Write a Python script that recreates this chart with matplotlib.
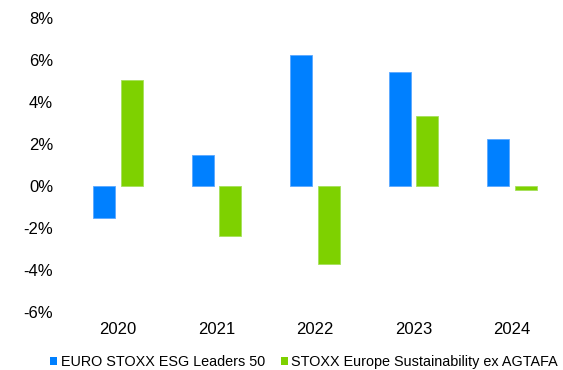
import matplotlib
matplotlib.use("Agg")
import matplotlib.pyplot as plt
import numpy as np
from matplotlib.patches import Patch
from matplotlib.ticker import FuncFormatter

plt.rcParams['font.family'] = ['Liberation Sans', 'DejaVu Sans']

years = ["2020", "2021", "2022", "2023", "2024"]
esg_leaders = [-1.52, 1.49, 6.22, 5.41, 2.22]
sustainability_ex = [5.05, -2.40, -3.70, 3.32, -0.19]
series_names = ["EURO STOXX ESG Leaders 50", "STOXX Europe Sustainability ex AGTAFA"]

blue = "#0080FF"
green = "#7ED100"

fig = plt.figure(figsize=(5.63, 3.70), dpi=100)
ax = fig.add_axes([69 / 563, 1 - 312 / 370, 492 / 563, 294 / 370])

x = np.arange(len(years))
w = 0.224
off = 0.14
ax.bar(x - off, esg_leaders, w, color=blue, edgecolor="#5aa8ff", linewidth=0.6)
ax.bar(x + off, sustainability_ex, w, color=green, edgecolor="#a6e05a", linewidth=0.6)

ax.set_xlim(-0.5, len(years) - 0.5)
ax.set_ylim(-6, 8)
ax.set_yticks(np.arange(-6, 9, 2))
ax.yaxis.set_major_formatter(FuncFormatter(lambda v, p: f"{v:.0f}%"))
ax.set_xticks(x)
ax.set_xticklabels(years)
ax.tick_params(axis="y", length=0, pad=11.5, labelsize=12, labelcolor="#000000")
ax.tick_params(axis="x", length=0, pad=7, labelsize=12, labelcolor="#000000")
for s in ax.spines.values():
    s.set_visible(False)

handles = [Patch(facecolor=blue, edgecolor="none"), Patch(facecolor=green, edgecolor="none")]
fig.legend(handles, series_names, loc="center", ncol=2,
           bbox_to_anchor=(304 / 563, 1 - 362 / 370), frameon=False,
           fontsize=10.4, handlelength=0.5, handleheight=0.5,
           handletextpad=0.25, columnspacing=1.1, borderpad=0, borderaxespad=0)

fig.savefig("out.png", dpi=100)
